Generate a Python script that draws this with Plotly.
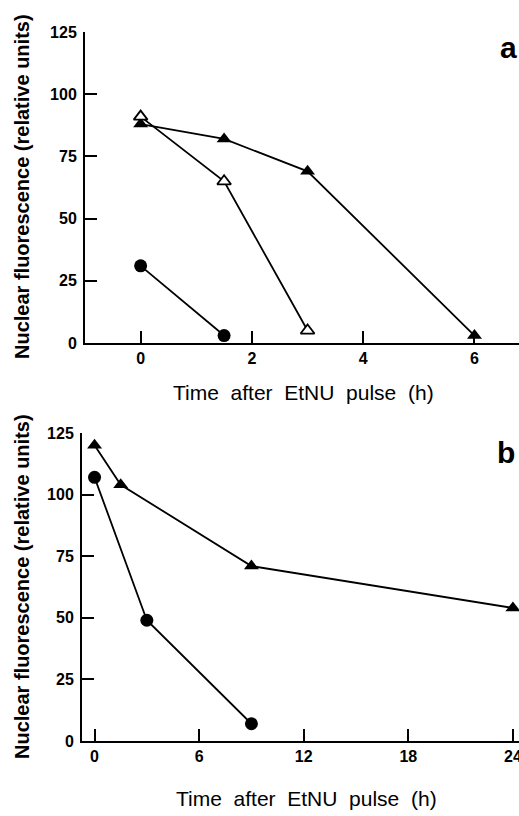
import plotly.graph_objects as go

W, H = 519, 816

# Panel a data
a_x_filled_tri = [0, 1.5, 3, 6]
a_y_filled_tri = [88, 82, 69, 3]
a_x_open_tri = [0, 1.5, 3]
a_y_open_tri = [91, 65, 5]
a_x_circle = [0, 1.5]
a_y_circle = [31, 3]

# Panel b data
b_x_tri = [0, 1.5, 9, 24]
b_y_tri = [120, 104, 71, 54]
b_x_circle = [0, 3, 9]
b_y_circle = [107, 49, 7]

a_xticks = [0, 2, 4, 6]
b_xticks = [0, 6, 12, 18, 24]
yticks = [0, 25, 50, 75, 100, 125]

FONT = "Liberation Sans"
LW = 1.8


def px_x(p):
    return p / W


def px_y(p):
    return 1 - p / H


fig = go.Figure()


def add_line(x, y, xa, ya, symbol, fill, size):
    fig.add_trace(go.Scatter(
        x=x, y=y, xaxis=xa, yaxis=ya, mode="lines+markers",
        line=dict(color="black", width=LW),
        marker=dict(symbol=symbol, size=size, color=fill,
                    line=dict(color="black", width=1.8 if fill == "white" else 0)),
        cliponaxis=False, showlegend=False, hoverinfo="skip"))


add_line(a_x_filled_tri, a_y_filled_tri, "x", "y", "triangle-up", "black", 13)
add_line(a_x_open_tri, a_y_open_tri, "x", "y", "triangle-up", "white", 12)
add_line(a_x_circle, a_y_circle, "x", "y", "circle", "black", 13)
add_line(b_x_tri, b_y_tri, "x2", "y2", "triangle-up", "black", 13)
add_line(b_x_circle, b_y_circle, "x2", "y2", "circle", "black", 13)

tickfont = dict(family=FONT, size=16, color="black", weight="bold")
common_x = dict(showline=True, linecolor="black", linewidth=2, ticks="inside",
                ticklen=12, tickwidth=1.8, tickcolor="black", showgrid=False,
                zeroline=False, tickfont=tickfont, ticklabelstandoff=0,
                automargin=False, ticklabeloverflow="allow")
common_y = dict(showline=True, linecolor="black", linewidth=2, ticks="inside",
                ticklen=12, tickwidth=1.8, tickcolor="black", showgrid=False,
                zeroline=False, tickfont=tickfont, tickvals=yticks,
                range=[0, 125], ticklabelstandoff=3, automargin=False)

fig.update_layout(
    template="none",
    width=W, height=H, margin=dict(l=0, r=0, t=0, b=0, pad=0, autoexpand=False),
    paper_bgcolor="white", plot_bgcolor="white",
    xaxis=dict(common_x, domain=[px_x(85), px_x(519)], range=[-1.0, 6.8],
               tickvals=a_xticks, anchor="y"),
    yaxis=dict(common_y, domain=[px_y(343), px_y(32)], anchor="x"),
    xaxis2=dict(common_x, domain=[px_x(82), px_x(519)], range=[-0.72, 24.35],
                tickvals=b_xticks, anchor="y2"),
    yaxis2=dict(common_y, domain=[px_y(741), px_y(433)], anchor="x2"),
)

ytitle = "Nuclear fluorescence (relative units)"
xtitle = "Time  after  EtNU  pulse  (h)"
ann = []
for cy in (187, 587):
    ann.append(dict(text=ytitle, x=px_x(22), y=px_y(cy), xref="paper", yref="paper",
                    showarrow=False, textangle=-90, xanchor="center", yanchor="middle",
                    font=dict(family=FONT, size=20, color="black", weight="bold")))
for cx, cy in ((303, 392), (307, 798)):
    ann.append(dict(text=xtitle, x=px_x(cx), y=px_y(cy), xref="paper", yref="paper",
                    showarrow=False, xanchor="center", yanchor="middle",
                    font=dict(family=FONT, size=21, color="black")))
for t, cx, cy in (("a", 508, 47), ("b", 506, 452)):
    ann.append(dict(text=t, x=px_x(cx), y=px_y(cy), xref="paper", yref="paper",
                    showarrow=False, xanchor="center", yanchor="middle",
                    font=dict(family=FONT, size=30, color="black", weight="bold")))
fig.update_layout(annotations=ann)

fig.write_html(
    "out.html",
    config={"displayModeBar": False},
    post_script="document.body.style.margin='0px';document.body.style.overflow='hidden';",
)
